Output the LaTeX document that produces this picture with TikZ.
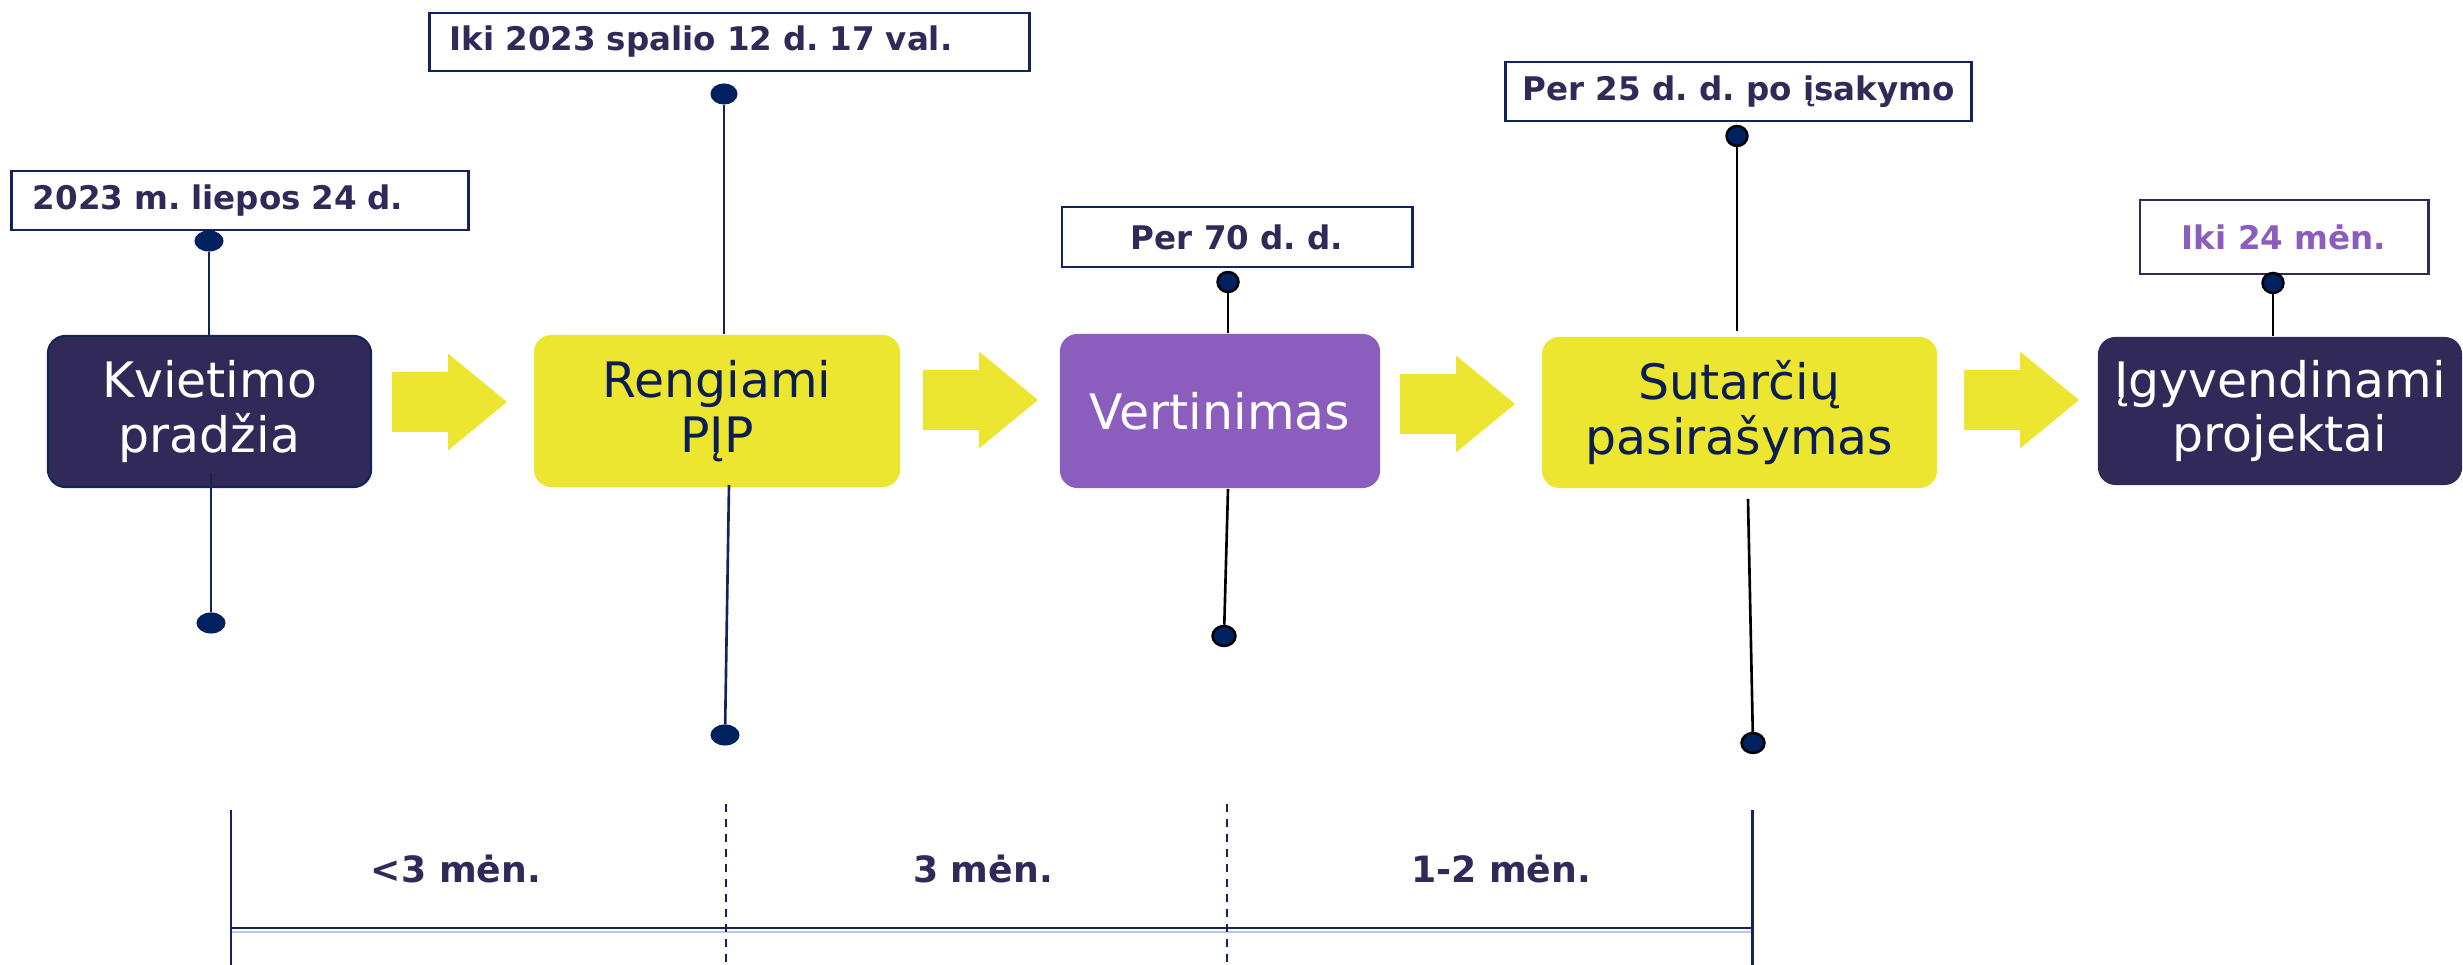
\documentclass[tikz,border=0pt]{standalone}
\usepackage{fontspec}
\setmainfont{DejaVu Sans}
\usetikzlibrary{shapes.geometric}
\frenchspacing
\definecolor{navybox}{RGB}{49,42,89}
\definecolor{ayellow}{RGB}{236,230,48}
\definecolor{apurple}{RGB}{139,94,190}
\definecolor{ytext}{RGB}{12,30,80}
\definecolor{dotnavy}{RGB}{0,33,96}
\definecolor{bordernavy}{RGB}{19,36,90}
\definecolor{labtext}{RGB}{49,42,89}
\definecolor{shadowblue}{RGB}{190,200,228}
\newcommand{\blkarrow}[2]{\fill[ayellow] (#1,#2-30) -- (#1+56,#2-30) -- (#1+56,#2-48.5) -- (#1+115,#2) -- (#1+56,#2+48.5) -- (#1+56,#2+30) -- (#1,#2+30) -- cycle;}
\begin{document}
\frenchspacing
\begin{tikzpicture}[x=0.01cm,y=-0.01cm,
  stage/.style={rounded corners=5pt, align=center, inner sep=0pt,
    font=\fontsize{13.9}{15.6}\selectfont},
  darkstage/.style={stage, fill=navybox, draw=bordernavy, line width=0.6pt, text=white},
  yelstage/.style={stage, fill=ayellow, text=ytext},
  purstage/.style={stage, fill=apurple, text=white},
  labelbox/.style={draw=bordernavy, line width=0.8pt, fill=white, inner sep=0pt,
    font=\bfseries\fontsize{9.25}{11}\selectfont\frenchspacing, text=labtext},
  dotA/.style={ellipse, fill=dotnavy, draw=dotnavy, line width=0.3pt, inner sep=0pt,
    minimum width=0.28cm, minimum height=0.2cm},
  dotB/.style={ellipse, fill=dotnavy, draw=black, line width=0.7pt, inner sep=0pt,
    minimum width=0.21cm, minimum height=0.2cm},
  connN/.style={draw=bordernavy, line width=0.75pt},
  connK/.style={draw=black, line width=0.75pt},
  tline/.style={draw=bordernavy, line width=0.85pt},
  tdash/.style={draw=bordernavy, line width=0.6pt, dash pattern=on 0.08cm off 0.07cm},
  durlabel/.style={font=\bfseries\fontsize{10.3}{12}\selectfont\frenchspacing, text=labtext, inner sep=0pt}
]
\useasboundingbox (0,0) rectangle (2463,965);

% stage boxes
\node[darkstage, minimum width=3.23cm, minimum height=1.51cm] (b1) at (209.5,411.5) {Kvietimo\\pradžia};
\node[yelstage, minimum width=3.66cm, minimum height=1.52cm] (b2) at (717,411) {Rengiami\\PĮP};
\node[purstage, minimum width=3.20cm, minimum height=1.54cm] (b3) at (1220,411) {Vertinimas};
\node[yelstage, minimum width=3.95cm, minimum height=1.51cm] (b4) at (1739.5,412.5) {Sutarčių\\pasirašymas};
\node[darkstage, draw=none, minimum width=3.64cm, minimum height=1.48cm] (b5) at (2280,411) {Įgyvendinami\\projektai};

% block arrows
\blkarrow{392}{402}
\blkarrow{923}{400}
\blkarrow{1400}{404}
\blkarrow{1964}{400}

% label boxes
\node[labelbox, minimum width=4.56cm, minimum height=0.59cm, text width=4.14cm, inner xsep=0.21cm, align=left] (l1) at (240,200.5) {2023 m. liepos 24 d.};
\node[labelbox, minimum width=5.99cm, minimum height=0.58cm, text width=5.59cm, inner xsep=0.2cm, align=left] (l2) at (729.5,42) {Iki 2023 spalio 12 d. 17 val.};
\node[labelbox, minimum width=3.50cm, minimum height=0.60cm] (l3) at (1237,237) {Per 70 d. d.};
\node[labelbox, minimum width=4.65cm, minimum height=0.59cm] (l4) at (1738.5,91.5) {Per 25 d. d. po įsakymo};
\node[labelbox, draw=navybox, minimum width=2.88cm, minimum height=0.74cm, text=apurple] (l5) at (2284,237) {Iki 24 mėn.};

% dots
\node[dotA] (d1t) at (209,241) {};
\node[dotA] (d1b) at (211,623) {};
\node[dotA, minimum width=0.26cm] (d2t) at (724,94) {};
\node[dotA] (d2b) at (725,735) {};
\node[dotB] (d3t) at (1228,282) {};
\node[dotB, minimum width=0.23cm] (d3b) at (1224,636) {};
\node[dotB] (d4t) at (1737,136) {};
\node[dotB, minimum width=0.23cm] (d4b) at (1753,743) {};
\node[dotB] (d5) at (2273,283) {};

% connector ends inside / near boxes
\coordinate (c1s) at (211,473);
\coordinate (c2s) at (729,485);
\coordinate (c3s) at (1228,489);
\coordinate (c4n) at (1737,331);
\coordinate (c4s) at (1748,499);

\draw[connN] (d1t) -- (d1t |- b1.north);
\draw[connN] (c1s) -- (d1b);
\draw[connN] (d2t) -- (d2t |- b2.north);
\draw[connN] (c2s) -- (d2b);
\draw[connK] (d3t) -- (d3t |- b3.north);
\draw[connK] (c3s) -- (d3b);
\draw[connK] (d4t) -- (c4n);
\draw[connK] (c4s) -- (d4b);
\draw[connK] (d5) -- (d5 |- b5.north);

% bottom timeline
\coordinate (t1a) at (231,810);
\coordinate (t1b) at (231,965);
\coordinate (t2a) at (726,804);
\coordinate (t2b) at (726,965);
\coordinate (t3a) at (1227,804);
\coordinate (t3b) at (1227,965);
\coordinate (t4a) at (1752,810);
\coordinate (t4b) at (1752,965);
\coordinate (h1) at (231,928);
\coordinate (h2) at (1752,928);

\draw[draw=shadowblue, line width=0.6pt] ([yshift=-1.1pt]h1) -- ([yshift=-1.1pt]h2);
\draw[tline, line width=0.7pt] (h1) -- (h2);
\draw[tline] (t1a) -- (t1b);
\draw[tline] (t4a) -- (t4b);
\draw[tdash] (t2a) -- (t2b);
\draw[tdash] (t3a) -- (t3b);

\node[durlabel] (m1) at (456,869) {<3 mėn.};
\node[durlabel] (m2) at (983,869) {3 mėn.};
\node[durlabel] (m3) at (1501,869) {1-2 mėn.};
\end{tikzpicture}
\end{document}
